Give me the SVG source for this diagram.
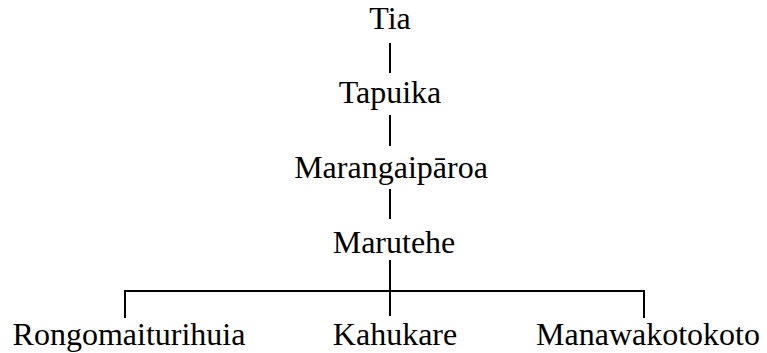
<svg xmlns="http://www.w3.org/2000/svg" width="767" height="353" viewBox="0 0 767 353">
<style>
.t{font-size:32px;fill:#000;text-anchor:middle}
.c line{stroke:#000;stroke-width:2;fill:none}
</style>
<rect width="767" height="353" fill="#fff"/>
<g class="c" id="connectors">
<line x1="390" y1="43" x2="390" y2="73"/>
<line x1="390" y1="115" x2="390" y2="146"/>
<line x1="390" y1="189" x2="390" y2="219"/>
<line x1="390" y1="260" x2="390" y2="316"/>
<line x1="124" y1="291" x2="645" y2="291"/>
<line x1="125" y1="290" x2="125" y2="318"/>
<line x1="644" y1="290" x2="644" y2="318"/>
</g>
<g font-family="Liberation Serif, Times New Roman, serif">
<g id="tia"><text class="t" x="390" y="29">Tia</text></g>
<g id="tapuika"><text class="t" x="390" y="103">Tapuika</text></g>
<g id="marangaiparoa"><text class="t" x="391" y="178">Marangaipāroa</text></g>
<g id="marutehe"><text class="t" x="394" y="253">Marutehe</text></g>
<g id="rongomaiturihuia"><text class="t" x="129" y="345">Rongomaiturihuia</text></g>
<g id="kahukare"><text class="t" x="395" y="345">Kahukare</text></g>
<g id="manawakotokoto"><text class="t" x="648" y="345">Manawakotokoto</text></g>
</g>
</svg>
